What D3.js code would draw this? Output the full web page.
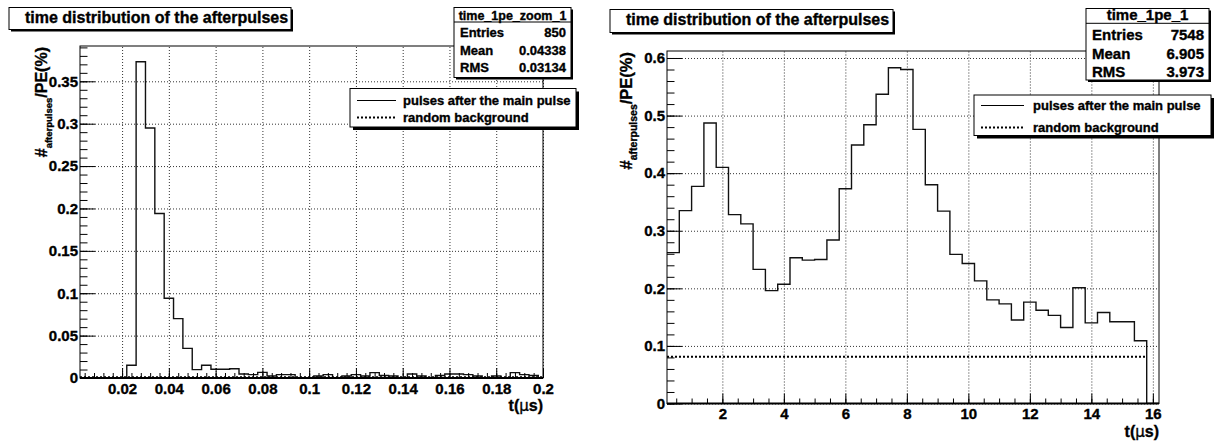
<!DOCTYPE html>
<html>
<head>
<meta charset="utf-8">
<script src="https://cdn.jsdelivr.net/npm/d3@7"></script>
<style>
  body { margin: 0; background: #fff; }
  svg { display: block; }
  text { font-family: "Liberation Sans", Arial, Helvetica, sans-serif; font-weight: bold; fill: #000;
         stroke: #000; stroke-width: 0.35px; }
</style>
</head>
<body>
<svg id="chart" width="1217" height="442"></svg>
<script>
// ---- time_1pe_zoom_1 : afterpulse times in the first 0.2 us (bins of 0.004 us from 0.002 us)
const zoomBinStart = 0.002;
const zoomBinWidth = 0.004;
const zoomValues = [
  0, 0, 0, 0, 0,
  0.015, 0.373, 0.295, 0.194, 0.094, 0.070, 0.035,
  0.0099, 0.0150, 0.0103, 0.0103, 0.0110, 0.0047, 0.0040, 0.0066, 0.0024, 0.0040, 0.0040,
  0, 0, 0.0024, 0.0040, 0, 0.0024, 0.0040, 0.0024, 0.0064, 0.0030, 0.0024, 0,
  0.0048, 0.0024, 0, 0.0030, 0.0048, 0.0048, 0.0040, 0.0024, 0, 0.0024, 0,
  0.0064, 0.0040, 0.0030, 0
];
const zoomBackground = { level: 0.0008, from: 0.002, to: 0.2 };
const zoomXTicks = [0.02, 0.04, 0.06, 0.08, 0.1, 0.12, 0.14, 0.16, 0.18, 0.2];
const zoomYTicks = [0, 0.05, 0.1, 0.15, 0.2, 0.25, 0.3, 0.35];
const zoomStatsName = "time_1pe_zoom_1";
const zoomStats = [["Entries", "850"], ["Mean", "0.04338"], ["RMS", "0.03134"]];

// ---- time_1pe_1 : afterpulse times up to 16 us (bins of 0.4 us from 0.2 us)
const fullBinStart = 0.2;
const fullBinWidth = 0.4;
const fullValues = [
  0.262, 0.335, 0.377, 0.487, 0.410, 0.328, 0.312, 0.233, 0.196, 0.207,
  0.253, 0.249, 0.250, 0.284, 0.373, 0.449, 0.484, 0.537, 0.583, 0.580,
  0.476, 0.380, 0.334, 0.259, 0.243, 0.213, 0.180, 0.173, 0.145, 0.176,
  0.162, 0.153, 0.132, 0.201, 0.140, 0.158, 0.142, 0.142, 0.109, 0
];
const fullBackground = { level: 0.081, from: 0.2, to: 15.8 };
const fullXTicks = [2, 4, 6, 8, 10, 12, 14, 16];
const fullYTicks = [0, 0.1, 0.2, 0.3, 0.4, 0.5, 0.6];
const fullStatsName = "time_1pe_1";
const fullStats = [["Entries", "7548"], ["Mean", "6.905"], ["RMS", "3.973"]];

const titleText = "time distribution of the afterpulses";
const legendLabels = ["pulses after the main pulse", "random background"];

const svg = d3.select("#chart");
svg.append("rect").attr("width", 1217).attr("height", 442).attr("fill", "#fff");

function drawPanel(p) {
  const g = svg.append("g");
  const f = p.frame;
  const edges = d3.range(p.values.length + 1).map(i => p.binStart + i * p.binWidth);
  const yMax = d3.max(p.values) * 1.05;

  const x = d3.scaleLinear().domain(p.xDomain).range([f.x0, f.x1]);
  const y = d3.scaleLinear().domain([0, yMax]).range([f.y1, f.y0]);
  const W = f.x1 - f.x0, H = f.y1 - f.y0;

  // dotted grid at the major ticks
  const gx = g.append("g").attr("transform", `translate(0,${f.y1})`)
    .call(d3.axisBottom(x).tickValues(p.xTicks).tickSize(-H).tickFormat(""));
  const gy = g.append("g").attr("transform", `translate(${f.x0},0)`)
    .call(d3.axisLeft(y).tickValues(p.yTicks).tickSize(-W).tickFormat(""));
  [gx, gy].forEach(a => {
    a.select(".domain").remove();
    a.selectAll("line").attr("stroke", "#333").attr("stroke-width", 1).attr("stroke-dasharray", "1 2");
  });

  // histogram outline and background, clipped to the frame
  const clipId = "clip" + p.id;
  svg.append("defs").append("clipPath").attr("id", clipId)
    .append("rect").attr("x", f.x0).attr("y", f.y0).attr("width", W).attr("height", H);
  const plot = g.append("g").attr("clip-path", `url(#${clipId})`);

  const pts = [];
  p.values.forEach((v, i) => {
    pts.push([x(edges[i]), y(v)]);
    pts.push([x(edges[i + 1]), y(v)]);
  });
  plot.append("path")
    .attr("d", d3.line()(pts))
    .attr("fill", "none").attr("stroke", "#111").attr("stroke-width", 1.4);

  plot.append("line")
    .attr("x1", x(p.background.from)).attr("x2", x(p.background.to))
    .attr("y1", y(p.background.level)).attr("y2", y(p.background.level))
    .attr("stroke", "#000").attr("stroke-width", 2).attr("stroke-dasharray", "2 2");

  // tick marks inside the frame
  const xMajor = d3.axisBottom(x).tickValues(p.xTicks).tickSize(-10).tickPadding(5)
    .tickFormat(d3.format("~g"));
  const xMinor = d3.axisBottom(x).tickValues(d3.range(p.xMinor, p.xDomain[1] + 1e-9, p.xMinor)
    .filter(v => v >= p.xDomain[0])).tickSize(-5).tickFormat("");
  const yMajor = d3.axisLeft(y).tickValues(p.yTicks).tickSize(-15).tickPadding(2)
    .tickFormat(d3.format("~g"));
  const yMinor = d3.axisLeft(y).tickValues(d3.range(0, yMax, p.yMinor)).tickSize(-7.5).tickFormat("");

  [[xMinor, "x"], [xMajor, "x"], [yMinor, "y"], [yMajor, "y"]].forEach(([ax, k]) => {
    const a = g.append("g")
      .attr("transform", k === "x" ? `translate(0,${f.y1})` : `translate(${f.x0},0)`)
      .call(ax);
    a.select(".domain").remove();
    a.attr("font-family", null).attr("font-size", null);
    a.selectAll("line").attr("stroke", "#000").attr("stroke-width", 1);
    a.selectAll("text").attr("font-size", 15).attr("fill", "#000");
  });

  // frame
  g.append("rect").attr("x", f.x0).attr("y", f.y0).attr("width", W).attr("height", H)
    .attr("fill", "none").attr("stroke", "#000").attr("stroke-width", 1);
  g.append("line").attr("x1", f.x0).attr("x2", f.x1).attr("y1", f.y1).attr("y2", f.y1)
    .attr("stroke", "#000").attr("stroke-width", 2);

  // axis titles
  const yt = g.append("text")
    .attr("transform", `translate(${p.yTitle.x},${f.y0 + 1}) rotate(-90)`)
    .attr("text-anchor", "end").attr("font-size", p.yTitle.size);
  yt.append("tspan").text("#");
  yt.append("tspan").attr("font-size", p.yTitle.sub).attr("dy", 5).text("afterpulses");
  yt.append("tspan").attr("dy", -5).text("/PE(%)");

  const xt = g.append("text").attr("x", f.x1).attr("y", p.xTitleY)
    .attr("text-anchor", "end").attr("font-size", 16);
  xt.append("tspan").text("t(");
  xt.append("tspan").attr("font-weight", "normal").attr("font-family", "DejaVu Sans").attr("font-size", 15).text("\u03bc");
  xt.append("tspan").text("s)");

  // title box
  const t = p.title;
  g.append("rect").attr("x", t.x + 2).attr("y", t.y + 2).attr("width", t.w).attr("height", t.h).attr("fill", "#000");
  g.append("rect").attr("x", t.x).attr("y", t.y).attr("width", t.w).attr("height", t.h)
    .attr("fill", "#fff").attr("stroke", "#000").attr("stroke-width", 1);
  g.append("text").attr("x", t.x + 16).attr("y", t.y + 15.5).attr("font-size", 16).text(titleText);

  // statistics box
  const s = p.stats;
  g.append("rect").attr("x", s.x + 2).attr("y", s.y + 2).attr("width", s.w).attr("height", s.h).attr("fill", "#000");
  g.append("rect").attr("x", s.x).attr("y", s.y).attr("width", s.w).attr("height", s.h)
    .attr("fill", "#fff").attr("stroke", "#000").attr("stroke-width", 1);
  g.append("line").attr("x1", s.x).attr("x2", s.x + s.w).attr("y1", s.sep).attr("y2", s.sep)
    .attr("stroke", "#000").attr("stroke-width", 1);
  g.append("text").attr("x", s.x + s.w / 2).attr("y", s.headBase).attr("text-anchor", "middle")
    .attr("font-size", s.headSize).text(p.statsName);
  p.statsRows.forEach((r, i) => {
    g.append("text").attr("x", s.x + 6).attr("y", s.rows[i]).attr("font-size", s.rowSize).text(r[0]);
    g.append("text").attr("x", s.x + s.w - 5).attr("y", s.rows[i]).attr("text-anchor", "end")
      .attr("font-size", s.rowSize).text(r[1]);
  });

  // legend
  const L = p.legend;
  g.append("rect").attr("x", L.x + 3).attr("y", L.y + 3).attr("width", L.w).attr("height", L.h).attr("fill", "#000");
  g.append("rect").attr("x", L.x).attr("y", L.y).attr("width", L.w).attr("height", L.h)
    .attr("fill", "#fff").attr("stroke", "#000").attr("stroke-width", 1);
  const styles = [{ w: 1, dash: null }, { w: 2, dash: "2 2" }];
  legendLabels.forEach((lab, i) => {
    const ry = L.rows[i];
    g.append("line").attr("x1", L.x + 7).attr("x2", L.x + 7 + L.sample).attr("y1", ry).attr("y2", ry)
      .attr("stroke", "#000").attr("stroke-width", styles[i].w).attr("stroke-dasharray", styles[i].dash);
    g.append("text").attr("x", L.textX).attr("y", ry + 4.5).attr("font-size", 13).text(lab);
  });
}

drawPanel({
  id: "zoom",
  values: zoomValues, binStart: zoomBinStart, binWidth: zoomBinWidth,
  background: zoomBackground, xTicks: zoomXTicks, yTicks: zoomYTicks,
  statsName: zoomStatsName, statsRows: zoomStats,
  xDomain: [0.002, 0.2], xMinor: 0.004, yMinor: 0.01,
  frame: { x0: 80, x1: 543, y0: 46, y1: 378 },
  yTitle: { x: 47, size: 16, sub: 9.5 }, xTitleY: 411,
  title: { x: 9, y: 7.5, w: 282, h: 22 },
  stats: { x: 454, y: 7.5, w: 117, h: 70, sep: 22, headBase: 19.5, headSize: 12.5, rowSize: 13, rows: [37.3, 55, 72] },
  legend: { x: 350, y: 88.5, w: 226, h: 38.5, rows: [100.5, 117.5], sample: 39, textX: 403 }
});

drawPanel({
  id: "full",
  values: fullValues, binStart: fullBinStart, binWidth: fullBinWidth,
  background: fullBackground, xTicks: fullXTicks, yTicks: fullYTicks,
  statsName: fullStatsName, statsRows: fullStats,
  xDomain: [0.2, 16.2], xMinor: 0.5, yMinor: 0.02,
  frame: { x0: 667, x1: 1159, y0: 51, y1: 403.5 },
  yTitle: { x: 632, size: 16.5, sub: 10.5 }, xTitleY: 437,
  title: { x: 610, y: 9.5, w: 283, h: 23 },
  stats: { x: 1086, y: 8.5, w: 123, h: 71.5, sep: 23.3, headBase: 20, headSize: 15, rowSize: 15, rows: [39.5, 58.5, 77] },
  legend: { x: 974, y: 95, w: 237, h: 40.5, rows: [105.5, 127.5], sample: 43, textX: 1033 }
});
</script>
</body>
</html>
